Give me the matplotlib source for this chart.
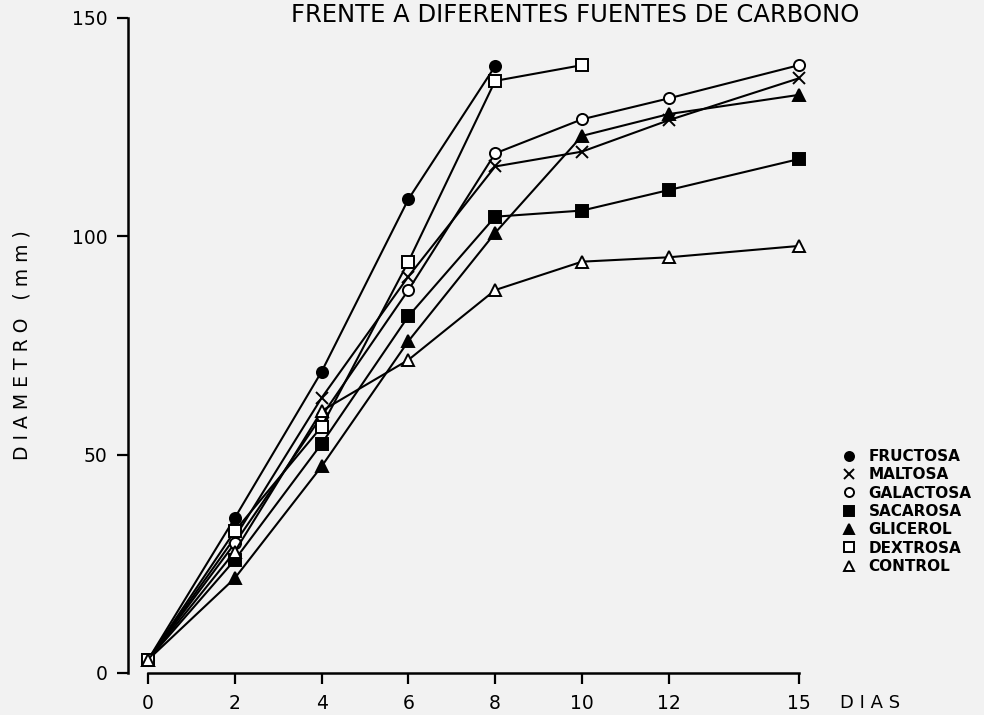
import matplotlib
matplotlib.use("Agg")
import matplotlib.pyplot as plt

# growth in diameter (mm) over days, per carbon source
dias = [0, 2, 4, 6, 8, 10, 12, 15]

fructosa = [3, 35.5, 69, 108.5, 139]
maltosa = [3, 31, 63, 90.8, 116, 119.4, 126.6, 136.2]
galactosa = [3, 29.7, 58.8, 87.7, 119, 126.8, 131.6, 139.2]
sacarosa = [3, 25.9, 52.5, 81.7, 104.5, 105.9, 110.6, 117.7]
glicerol = [3, 21.7, 47.3, 76, 100.8, 123, 128, 132.4]
dextrosa = [3, 32.5, 56.4, 94.2, 135.6, 139.2]
control = [3, 27.8, 60, 71.7, 87.7, 94.2, 95.2, 97.8]

series = [
    ("FRUCTOSA", fructosa, "o", "black"),
    ("MALTOSA", maltosa, "x", "black"),
    ("GALACTOSA", galactosa, "o", "white"),
    ("SACAROSA", sacarosa, "s", "black"),
    ("GLICEROL", glicerol, "^", "black"),
    ("DEXTROSA", dextrosa, "s", "white"),
    ("CONTROL", control, "^", "white"),
]

y_ticks = [0, 50, 100, 150]
x_ticks = [0, 2, 4, 6, 8, 10, 12, 15]

BG = "#f2f2f2"
FONT = "DejaVu Sans"

fig = plt.figure(figsize=(9.84, 7.15), dpi=100, facecolor=BG)
ax = fig.add_axes([128 / 984, 42 / 715, 671 / 984, 655 / 715])
ax.set_facecolor(BG)

for name, vals, mk, face in series:
    ax.plot(dias[:len(vals)], vals, color="black", lw=1.5, marker=mk,
            markersize=8 if mk != "x" else 8.5, markerfacecolor=face,
            markeredgecolor="black", markeredgewidth=1.4, clip_on=False,
            label=name)

ax.set_xlim(-0.46, 15)
ax.set_ylim(0, 150)
ax.spines["top"].set_visible(False)
ax.spines["right"].set_visible(False)
ax.spines["left"].set_linewidth(1.8)
ax.spines["bottom"].set_linewidth(1.8)
ax.spines["bottom"].set_bounds(0, 15)

ax.set_xticks(x_ticks)
ax.set_yticks(y_ticks)
ax.tick_params(axis="both", direction="out", length=8, width=1.6,
               labelsize=13.5, pad=7)
for lab in ax.get_xticklabels() + ax.get_yticklabels():
    lab.set_fontfamily(FONT)

fig.text(22 / 984, 1 - 345 / 715, "D I A M E T R O   ( m m )", rotation=90,
         ha="center", va="center", fontsize=13.5, family=FONT)
fig.text(870 / 984, 1 - 703 / 715, "D I A S", ha="center", va="center",
         fontsize=13, family=FONT)
fig.text(575 / 984, 1 - 22 / 715, "FRENTE A DIFERENTES FUENTES DE CARBONO",
         ha="center", va="baseline", fontsize=17.5, family=FONT)

leg = ax.legend(loc="center left", bbox_to_anchor=(841 / 984, 1 - 511.5 / 715),
                bbox_transform=fig.transFigure, frameon=False, borderpad=0,
                borderaxespad=0, handlelength=1, handletextpad=0.8,
                labelspacing=0.22, prop={"family": FONT, "weight": "bold",
                                         "size": 11})
for h in leg.legend_handles:
    h.set_linestyle("none")
    h.set_markersize(6.5)

fig.savefig("out.png", dpi=100, facecolor=BG)
